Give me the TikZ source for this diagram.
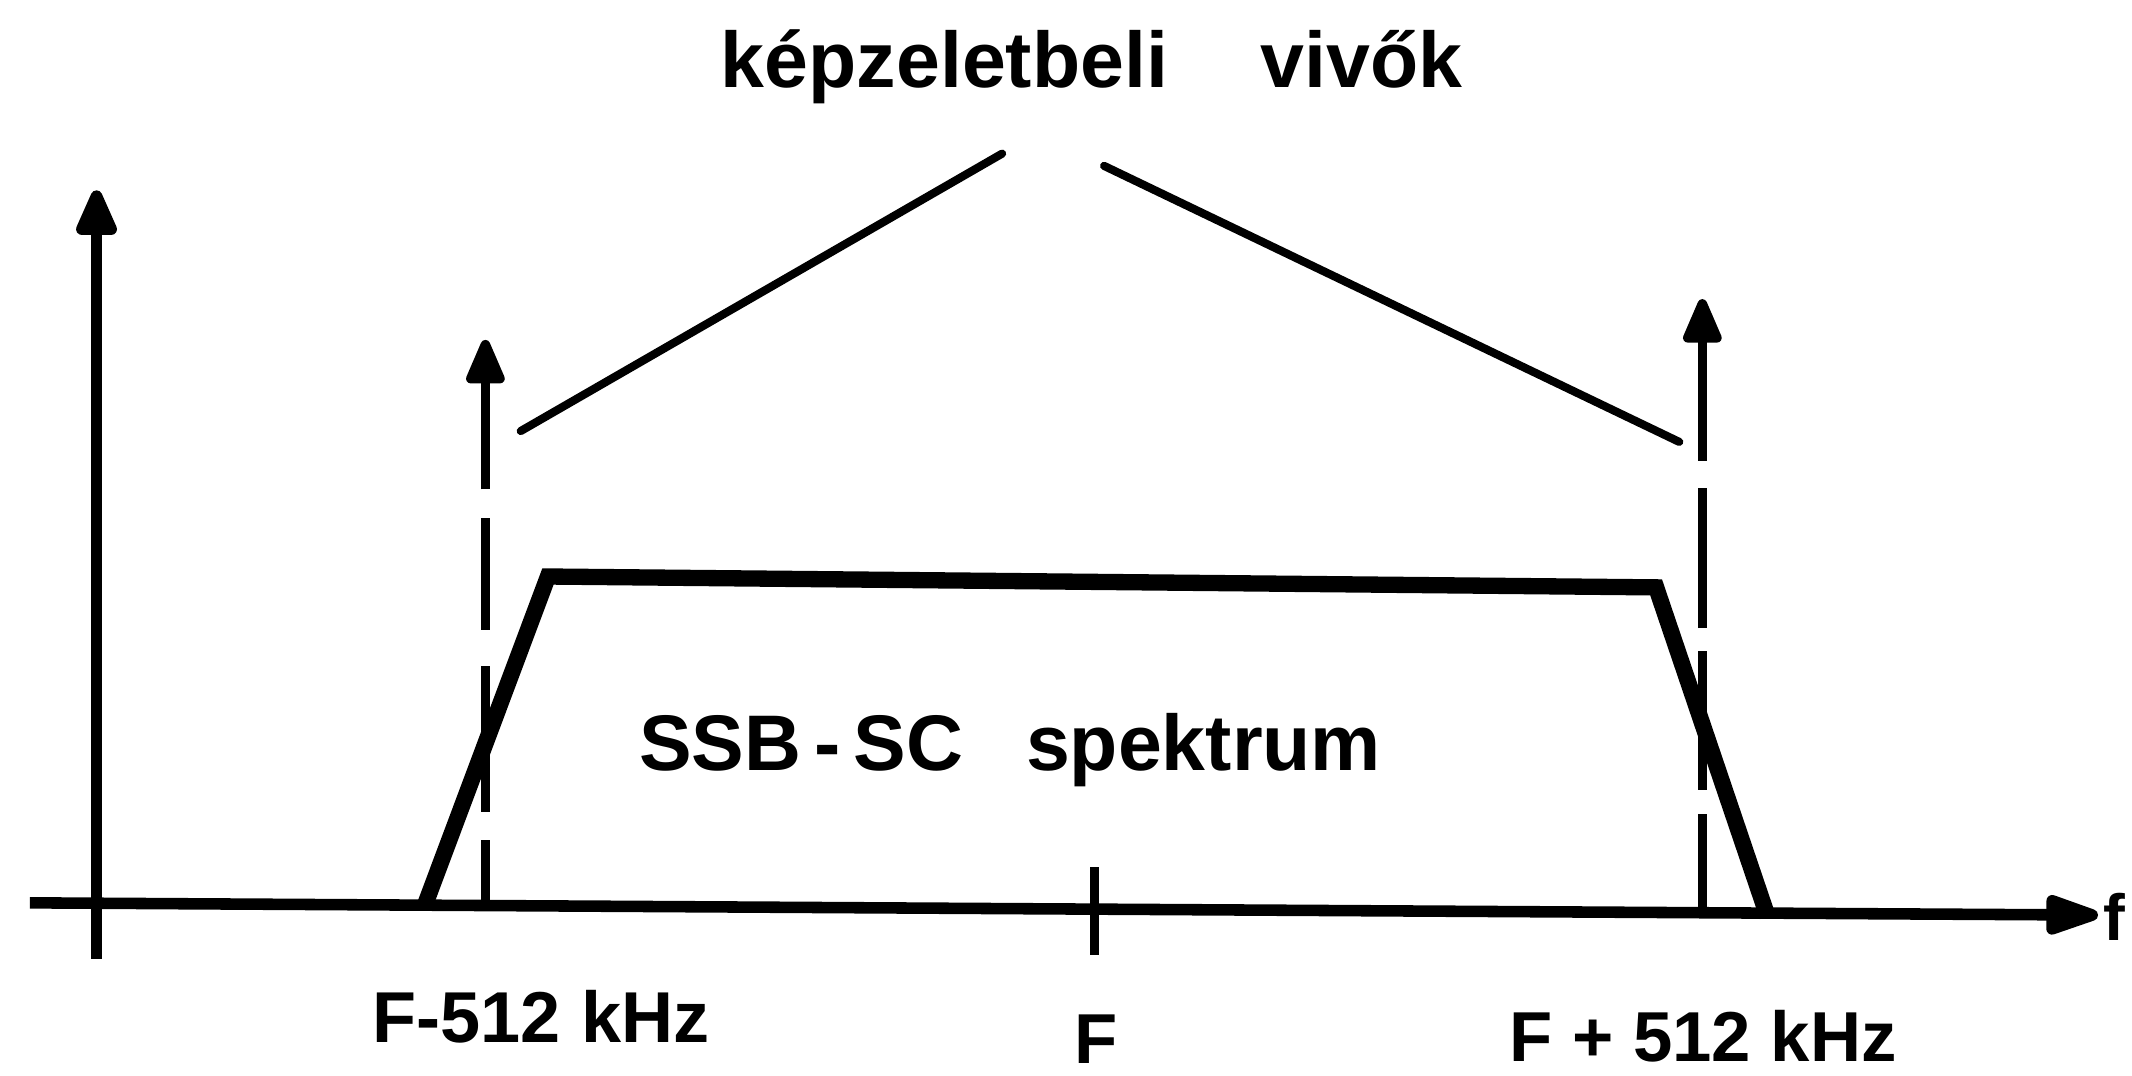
\documentclass[tikz,border=0pt]{standalone}
\usepackage{fontspec}
\setmainfont{Liberation Sans}
\usetikzlibrary{arrows.meta}

\begin{document}
\begin{tikzpicture}[x=1pt,y=-1pt,
  axisline/.style={line width=8.5pt},
  axisarrow/.style={axisline, -{Triangle[length=40pt,width=32pt,round]}},
  carrier/.style={line width=7pt, -{Triangle[length=38pt,width=30pt,round]}},
  spectrum/.style={line width=12pt, line join=miter},
  pointer/.style={line width=6pt, line cap=round},
  lbl/.style={inner sep=0pt, anchor=base west, font=\bfseries}]

  \useasboundingbox (0,0) rectangle (1568,791);

  % axes
  \coordinate (yb) at (71,705);
  \coordinate (yt) at (71,140);
  \coordinate (xl) at (22,664);
  \coordinate (xr) at (1543,673);
  \draw[axisarrow] (yb) -- (yt);
  \draw[axisarrow, -{Triangle[length=48pt,width=30pt,round]}] (xl) -- (xr);
  \node[lbl, font=\fontsize{48}{56}\selectfont\bfseries] (f) at (1547,692) {f};

  % tick at the centre frequency F
  \coordinate (tt) at (805,638);
  \coordinate (tb) at (805,702);
  \draw[line width=6pt] (tt) -- (tb);

  % imaginary carriers (dashed arrows, drawn bottom up)
  \coordinate (c1b) at (357,665);
  \coordinate (c1t) at (357,250);
  \coordinate (c2b) at (1252,672);
  \coordinate (c2t) at (1252,220);
  \draw[carrier, dash pattern=on 47pt off 21pt on 107pt off 27pt on 82pt off 21pt on 300pt]
    (c1b) -- (c1t);
  \draw[carrier, dash pattern=on 73pt off 18pt on 102pt off 17pt on 103pt off 20pt on 300pt]
    (c2b) -- (c2t);

  % SSB-SC spectrum trapezoid
  \coordinate (s1) at (312,667);
  \coordinate (s2) at (403,424);
  \coordinate (s3) at (1218,432);
  \coordinate (s4) at (1300,674);
  \draw[spectrum] (s1) -- (s2) -- (s3) -- (s4);

  % labels
  \node[lbl, font=\fontsize{58}{66}\selectfont\bfseries] (title) at (530,64)
    {képzeletbeli\hspace{68pt}vivők};
  \node[lbl, font=\fontsize{58}{66}\selectfont\bfseries] (ssb) at (470,567)
    {SSB\,-\,SC\hspace{46pt}spektrum};
  \node[lbl, font=\fontsize{53}{60}\selectfont\bfseries] (lo) at (274,767)
    {F-512 kHz};
  \node[lbl, font=\fontsize{52}{60}\selectfont\bfseries] (mid) at (790,782)
    {F};
  \node[lbl, font=\fontsize{52}{60}\selectfont\bfseries] (hi) at (1110,781)
    {F + 512 kHz};

  % pointers from the title to the carriers
  \coordinate (p1a) at (737,113);
  \coordinate (p1b) at (383,317);
  \coordinate (p2a) at (812,122);
  \coordinate (p2b) at (1235,325);
  \draw[pointer] (p1a) -- (p1b);
  \draw[pointer] (p2a) -- (p2b);
\end{tikzpicture}
\end{document}
